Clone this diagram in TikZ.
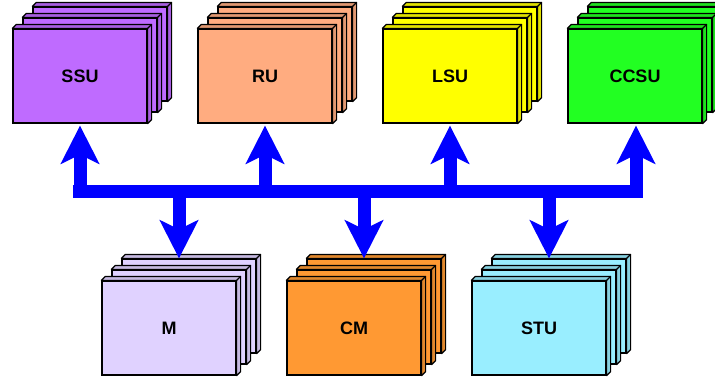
\documentclass[tikz,border=0pt]{standalone}
\usepackage{fontspec}
\setmainfont{Liberation Sans}
\usepackage{xcolor}
\usetikzlibrary{calc, positioning, arrows.meta}

\definecolor{ssucol}{RGB}{191,107,255}
\definecolor{rucol}{RGB}{255,172,128}
\definecolor{lsucol}{RGB}{255,255,0}
\definecolor{ccsucol}{RGB}{34,255,34}
\definecolor{mcol}{RGB}{224,210,255}
\definecolor{cmcol}{RGB}{255,153,51}
\definecolor{stucol}{RGB}{153,238,255}

\begin{document}
\begin{tikzpicture}[x=1pt, y=-1pt]
    \tikzset{
      layer/.style={
        draw, line width=1.2pt, inner sep=0pt,
        minimum width=134pt, minimum height=94pt,
      },
      face/.style={
        draw, line width=1.2pt, line join=round,
      },
      title/.style={
        font=\fontsize{18}{21}\selectfont\bfseries,
      },
      bus/.style={
        draw={rgb,255:red,0;green,0;blue,255}, line width=13pt,
      },
      link/.style={
        bus, -{Stealth[length=38pt, width=38pt, inset=9pt]},
      },
    }

    \useasboundingbox (0,0) rectangle (715,376);

    % three stacked layers per unit, back one first
    \foreach \name/\x/\y/\col/\txt in {
        ssu/80/76/ssucol/SSU, ru/265/76/rucol/RU,
        lsu/450/76/lsucol/LSU, ccsu/635/76/ccsucol/CCSU,
        m/169/328/mcol/M, cm/354/328/cmcol/CM, stu/539/328/stucol/STU} {
      \foreach \k in {2,1,0} {
        \node[layer, fill=\col] (\name-\k) at ({\x+10*\k}, {\y-11*\k}) {};
        \draw[face, fill=\col!88!black] (\name-\k.north west) -- ++(4,-4)
          -| ($(\name-\k.south east)+(4,-4)$) -- (\name-\k.south east)
          -- (\name-\k.north east) -- cycle;
        \draw[face] (\name-\k.north east) -- ++(4,-4);
      }
      \node[title] (\name) at (\name-0) {\txt};
    }

    \coordinate (busl) at (73,191);
    \coordinate (busr) at (643,191);
    \draw[bus] (busl) -- (busr);

    \draw[link] (ssu-0.south |- busl) -- ($(ssu-0.south)+(0,2)$);
    \draw[link] (ru-0.south |- busl) -- ($(ru-0.south)+(0,2)$);
    \draw[link] (lsu-0.south |- busl) -- ($(lsu-0.south)+(0,2)$);
    \draw[link] ($(ccsu-0.south |- busl)+(1,0)$) -- ($(ccsu-0.south)+(1,2)$);

    \draw[link] (m-1.center |- busl) -- (m-1.center |- m-2.north);
    \draw[link] (cm-1.center |- busl) -- (cm-1.center |- cm-2.north);
    \draw[link] (stu-1.center |- busl) -- (stu-1.center |- stu-2.north);
\end{tikzpicture}
\end{document}
